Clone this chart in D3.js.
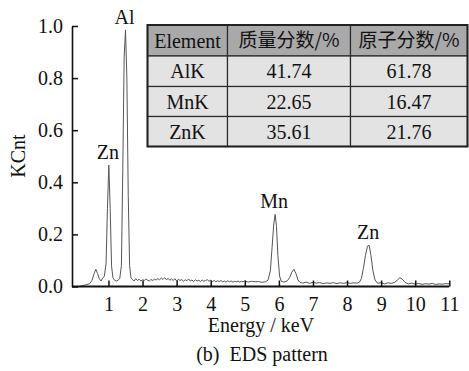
<!DOCTYPE html>
<html>
<head>
<meta charset="utf-8">
<script src="https://cdn.jsdelivr.net/npm/d3@7/dist/d3.min.js"></script>
<style>
  html, body { margin: 0; padding: 0; background: #fff; }
  svg text { font-family: "Liberation Serif", "Times New Roman", serif; fill: #111; }
  .cjk { font-family: "Noto Sans CJK SC", "Liberation Serif", serif; }
</style>
</head>
<body>
<svg id="chart" width="469" height="371"></svg>
<script>
// EDS spectrum: [energy keV, counts KCnt]
const spectrum = [
  [0.15,0.000],[0.25,0.004],[0.35,0.007],[0.45,0.011],[0.52,0.024],[0.58,0.050],
  [0.63,0.066],[0.68,0.050],[0.73,0.030],[0.78,0.021],[0.83,0.032],[0.88,0.040],
  [0.93,0.090],[0.97,0.300],[1.01,0.466],[1.05,0.300],[1.09,0.080],[1.13,0.034],
  [1.18,0.024],[1.23,0.021],[1.28,0.024],[1.33,0.030],[1.38,0.080],[1.42,0.450],
  [1.46,0.880],[1.50,0.985],[1.54,0.800],[1.58,0.350],[1.62,0.080],[1.66,0.034],
  [1.70,0.027],[1.75,0.021],[1.80,0.030],[1.85,0.023],[1.90,0.028],[1.95,0.021],
  [2.00,0.026],[2.05,0.023],[2.10,0.029],[2.15,0.024],[2.20,0.021],[2.25,0.027],
  [2.30,0.023],[2.35,0.028],[2.40,0.025],[2.45,0.030],[2.50,0.026],[2.55,0.032],
  [2.60,0.027],[2.65,0.034],[2.70,0.026],[2.75,0.031],[2.80,0.024],[2.85,0.029],
  [2.90,0.023],[2.95,0.030],[3.00,0.021],[3.05,0.028],[3.10,0.023],[3.15,0.027],
  [3.20,0.020],[3.25,0.026],[3.30,0.022],[3.35,0.029],[3.40,0.021],[3.45,0.025],
  [3.50,0.019],[3.55,0.026],[3.60,0.021],[3.65,0.024],[3.70,0.019],[3.75,0.025],
  [3.80,0.020],[3.85,0.023],[3.90,0.026],[3.95,0.020],[4.00,0.024],[4.05,0.019],
  [4.10,0.023],[4.15,0.018],[4.20,0.022],[4.25,0.019],[4.30,0.023],[4.35,0.018],
  [4.40,0.021],[4.45,0.017],[4.50,0.022],[4.55,0.018],[4.60,0.021],[4.65,0.017],
  [4.70,0.020],[4.75,0.018],[4.80,0.021],[4.85,0.017],[4.90,0.020],[4.95,0.018],
  [5.00,0.021],[5.10,0.017],[5.20,0.020],[5.30,0.018],[5.40,0.019],[5.50,0.016],
  [5.60,0.018],[5.68,0.024],[5.75,0.060],[5.80,0.150],[5.85,0.240],[5.89,0.277],
  [5.93,0.230],[5.97,0.120],[6.02,0.040],[6.07,0.020],[6.15,0.017],[6.25,0.022],
  [6.32,0.035],[6.38,0.055],[6.44,0.066],[6.50,0.050],[6.56,0.025],[6.62,0.016],
  [6.70,0.013],[6.80,0.017],[6.90,0.012],[7.00,0.016],[7.10,0.013],[7.20,0.015],
  [7.30,0.011],[7.40,0.014],[7.50,0.012],[7.60,0.015],[7.70,0.011],[7.80,0.014],
  [7.90,0.012],[8.00,0.015],[8.10,0.012],[8.20,0.014],[8.30,0.013],[8.36,0.016],
  [8.42,0.030],[8.48,0.070],[8.54,0.120],[8.60,0.155],[8.65,0.158],[8.70,0.120],
  [8.76,0.060],[8.82,0.025],[8.90,0.012],[9.00,0.015],[9.10,0.010],[9.20,0.014],
  [9.30,0.012],[9.40,0.016],[9.48,0.025],[9.55,0.034],[9.62,0.028],[9.70,0.016],
  [9.80,0.010],[9.90,0.013],[10.00,0.009],[10.10,0.012],[10.20,0.008],[10.30,0.011],
  [10.40,0.009],[10.50,0.012],[10.60,0.008],[10.70,0.010],[10.80,0.009],[10.90,0.011],
  [11.00,0.010]
];

// Peak annotations
const peakLabels = [
  { text: "Al", e: 1.50, y: 0.985 },
  { text: "Zn", e: 1.01, y: 0.466 },
  { text: "Mn", e: 5.89, y: 0.277 },
  { text: "Zn", e: 8.65, y: 0.158 }
];

const xTicks = [1,2,3,4,5,6,7,8,9,10,11];
const yTicks = [0,0.2,0.4,0.6,0.8,1.0];

// Composition table
const tableHeader = ["Element", "质量分数/%", "原子分数/%"];
const elements = ["AlK", "MnK", "ZnK"];
const massPct = ["41.74", "22.65", "35.61"];
const atomPct = ["61.78", "16.47", "21.76"];

const svg = d3.select("#chart");
const plotLeft = 72, plotRight = 449.3, plotTop = 26, plotBottom = 286.5;

const x = d3.scaleLinear().domain([-0.07, 11]).range([plotLeft, plotRight]);
const y = d3.scaleLinear().domain([0, 1.0]).range([plotBottom, plotTop]);

// spectrum trace
svg.append("path")
  .datum(spectrum)
  .attr("fill", "none")
  .attr("stroke", "#555")
  .attr("stroke-width", 1)
  .attr("stroke-linejoin", "round")
  .attr("d", d3.line().x(d => x(d[0])).y(d => y(d[1])));

// axes, ticks pointing inward
const xAxis = svg.append("g")
  .attr("transform", `translate(0,${plotBottom})`)
  .call(d3.axisBottom(x).tickValues(xTicks).tickFormat(d3.format("d"))
    .tickSizeInner(-6).tickSizeOuter(0).tickPadding(6));
xAxis.select(".domain").attr("stroke", "#111").attr("stroke-width", 2)
  .attr("d", `M${plotLeft},0H${plotRight}`);
xAxis.selectAll(".tick line").attr("stroke", "#111").attr("stroke-width", 1.5);
xAxis.selectAll(".tick text").attr("font-size", 20)
  .attr("font-family", "Liberation Serif, serif").attr("fill", "#111")
  .attr("dy", "0.9em");

const yAxis = svg.append("g")
  .attr("transform", `translate(${plotLeft},0)`)
  .call(d3.axisLeft(y).tickValues(yTicks).tickFormat(d3.format(".1f"))
    .tickSizeInner(-6).tickSizeOuter(0).tickPadding(9));
yAxis.select(".domain").attr("stroke", "#111").attr("stroke-width", 1.6);
yAxis.selectAll(".tick line").attr("stroke", "#111").attr("stroke-width", 1.5);
yAxis.selectAll(".tick text").attr("font-size", 20)
  .attr("font-family", "Liberation Serif, serif").attr("fill", "#111");

// peak labels
svg.selectAll("text.peak")
  .data(peakLabels)
  .join("text")
  .attr("class", "peak")
  .attr("x", d => x(d.e) - 1)
  .attr("y", d => y(d.y) - 6)
  .attr("text-anchor", "middle")
  .attr("font-size", 20)
  .text(d => d.text);

// axis titles
svg.append("text")
  .attr("transform", "translate(25,156) rotate(-90)")
  .attr("text-anchor", "middle")
  .attr("font-size", 20)
  .text("KCnt");

svg.append("text")
  .attr("x", 261).attr("y", 332)
  .attr("text-anchor", "middle")
  .attr("font-size", 20)
  .text("Energy / keV");

svg.append("text")
  .attr("x", 262).attr("y", 361)
  .attr("text-anchor", "middle")
  .attr("font-size", 20)
  .attr("xml:space", "preserve")
  .style("white-space", "pre")
  .text("(b)  EDS pattern");

// composition table
const colEdges = [147.5, 227.5, 350.5, 467.5];
const rowEdges = [25, 56, 86.5, 116.5, 146.5];
const rows = [tableHeader].concat(elements.map((e, i) => [e, massPct[i], atomPct[i]]));
const table = svg.append("g");

rows.forEach((row, r) => {
  row.forEach((cell, c) => {
    table.append("rect")
      .attr("x", colEdges[c]).attr("y", rowEdges[r])
      .attr("width", colEdges[c + 1] - colEdges[c])
      .attr("height", rowEdges[r + 1] - rowEdges[r])
      .attr("fill", r === 0 ? "#a9a9a9" : "#e3e3e3")
      .attr("stroke", "#2a2a2a").attr("stroke-width", 1.2);
    const isCjk = /[\u4e00-\u9fff]/.test(cell);
    table.append("text")
      .attr("class", isCjk ? "cjk" : null)
      .attr("x", (colEdges[c] + colEdges[c + 1]) / 2)
      .attr("y", (rowEdges[r] + rowEdges[r + 1]) / 2)
      .attr("dy", "0.35em")
      .attr("text-anchor", "middle")
      .attr("font-size", isCjk ? 19 : 20)
      .text(cell);
  });
});
table.append("rect")
  .attr("x", colEdges[0]).attr("y", rowEdges[0])
  .attr("width", colEdges[3] - colEdges[0])
  .attr("height", rowEdges[4] - rowEdges[0])
  .attr("fill", "none").attr("stroke", "#222").attr("stroke-width", 2);
</script>
</body>
</html>
